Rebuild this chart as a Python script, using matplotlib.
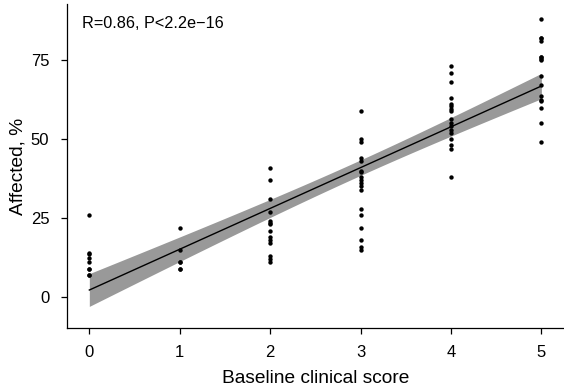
import numpy as np
import matplotlib
matplotlib.use("Agg")
import matplotlib.pyplot as plt

plt.rcParams['font.family'] = ['Liberation Sans', 'DejaVu Sans']

# affected % per baseline clinical score (some points overlap)
score0 = [26, 14, 13.5, 12.5, 11, 9, 9, 7, 7]
score1 = [22, 15, 11, 11, 9, 9]
score2 = [41, 37, 31, 27, 24, 23.5, 23, 21, 19, 18, 17, 13, 12, 11]
score3 = [59, 50, 49, 44, 43, 40, 39.5, 38, 37, 36, 35, 34, 28, 26, 22, 18, 16, 15]
score4 = [73, 71, 68, 63, 61, 60.5, 59.5, 59, 56.5, 55, 54, 53, 52, 50, 48, 47, 38]
score5 = [88, 82, 82, 81, 76, 76, 75.5, 75, 70, 67, 63.5, 62.5, 62, 60, 55, 49]
groups = [score0, score1, score2, score3, score4, score5]
stat_text = "R=0.86, P<2.2e\u221216"

x = np.concatenate([[i] * len(g) for i, g in enumerate(groups)]).astype(float)
y = np.concatenate(groups).astype(float)

# linear fit + 95% confidence band (like geom_smooth(method='lm'))
n = len(x)
b1, b0 = np.polyfit(x, y, 1)
resid = y - (b0 + b1 * x)
s = np.sqrt(np.sum(resid ** 2) / (n - 2))
xs = np.linspace(x.min(), x.max(), 100)
se = s * np.sqrt(1 / n + (xs - x.mean()) ** 2 / np.sum((x - x.mean()) ** 2))
tcrit = 1.995
fit = b0 + b1 * xs

fig = plt.figure(figsize=(5.64, 3.88), dpi=100)
ax = fig.add_axes([0.1183, 0.1554, 0.8817, 0.8338])

ax.fill_between(xs, fit - tcrit * se, fit + tcrit * se, color='#999999', lw=0, zorder=1)
ax.plot(xs, fit, color='black', lw=1, zorder=2)
ax.scatter(x, y, s=10, color='black', zorder=3, linewidths=0)

ax.set_xlim(-0.25, 5.25)
ax.set_ylim(-9.7, 92.7)
ax.set_xticks(range(6))
ax.set_yticks([0, 25, 50, 75])
for sp in ['top', 'right']:
    ax.spines[sp].set_visible(False)
for sp in ['left', 'bottom']:
    ax.spines[sp].set_linewidth(0.9)
ax.tick_params(direction='out', length=4.5, width=0.9, labelsize=12, colors='black', pad=8)

ax.set_xlabel("Baseline clinical score", fontsize=13.8, labelpad=7)
ax.set_ylabel("Affected, %", fontsize=13.8, labelpad=3)
ax.text(0.03, 0.965, stat_text, transform=ax.transAxes, fontsize=11.7, va='top', ha='left')

fig.savefig("out.png", dpi=100)
